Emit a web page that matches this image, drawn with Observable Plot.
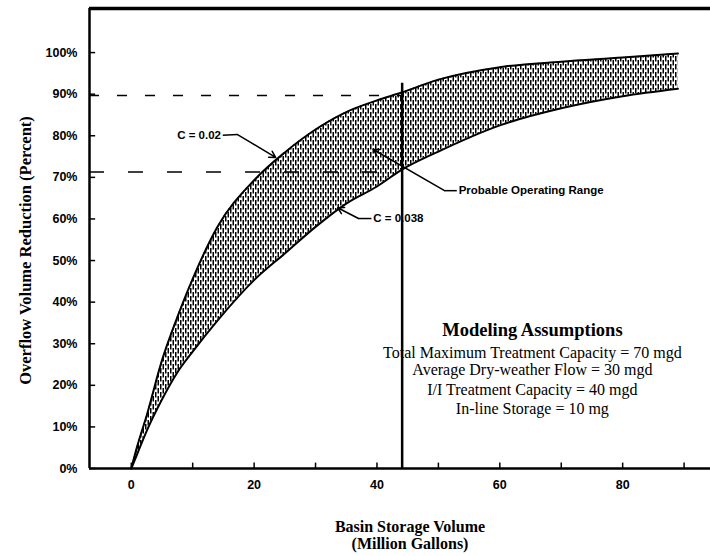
<!DOCTYPE html>
<html>
<head>
<meta charset="utf-8">
<script src="https://cdn.jsdelivr.net/npm/d3@7"></script>
<script src="https://cdn.jsdelivr.net/npm/@observablehq/plot@0.6"></script>
<style>
  html, body { margin: 0; padding: 0; background: #fff; }
</style>
</head>
<body>
<div id="chart"></div>
<script>
// Basin storage volume (million gallons)
const storage = [0, 1, 2.5, 5, 7.5, 10, 14, 20, 25, 30, 35, 40, 44, 50, 60, 70, 80, 89];
// Overflow volume reduction (%), C = 0.02 (upper edge of band)
const reductionC002 = [0, 5.5, 12.7, 26, 36.4, 45.6, 58, 69.3, 76, 81.5, 85.7, 88.5, 90.4, 93.5, 96.5, 97.8, 98.8, 99.8];
// Overflow volume reduction (%), C = 0.038 (lower edge of band)
const reductionC0038 = [0, 3.6, 9.0, 16.6, 23.1, 28.1, 35.5, 45.3, 51.7, 58.1, 63.7, 67.8, 71.8, 76.2, 82.5, 86.6, 89.5, 91.3];

const yTicks = [0, 10, 20, 30, 40, 50, 60, 70, 80, 90, 100];
const xTickLabels = [0, 20, 40, 60, 80];
const xTickMarks = [0, 10, 20, 30, 40, 50, 60, 70, 80, 90];

// operating point
const opStorage = 44.1;
const opUpper = 89.7;
const opLower = 71.3;
const opLineTop = 92.6;

// annotations (data units)
const annText = ["C = 0.02", "C = 0.038", "Probable Operating Range"];
const annAnchor = ["end", "start", "start"];
const annX = [14.6, 39.4, 53.3];
const annY = [80.1, 60.1, 66.8];
const linkStartX = [14.9, 39.1, 53.0];
const elbowX = [17.3, 37.0, 51.0];
const elbowY = [80.3, 60.1, 66.8];
const tipX = [23.5, 33.6, 39.4];
const tipY = [74.8, 62.7, 76.7];

const assumptionsTitle = "Modeling Assumptions";
const assumptions = [
  "Total Maximum Treatment Capacity = 70 mgd",
  "Average Dry-weather Flow = 30 mgd",
  "I/I Treatment Capacity = 40 mgd",
  "In-line Storage = 10 mg"
];
const assumptionsX = 65.3;
const assumptionsTitleY = 33.4;
const assumptionsY = [27.9, 23.6, 19.0, 14.4];

const xDomain = [-6.8, 94.3];
const yDomain = [0, 110.6];

const band = storage.map((s, i) => ({x: s, hi: reductionC002[i], lo: reductionC0038[i]}));
const ann = annText.map((t, i) => ({t, a: annAnchor[i], x: annX[i], y: annY[i], lx: linkStartX[i], ex: elbowX[i], ey: elbowY[i], tx: tipX[i], ty: tipY[i]}));
const assumptionRows = assumptions.map((t, i) => ({t, y: assumptionsY[i]}));

const sans = "Liberation Sans, Arial, sans-serif";
const serif = "Liberation Serif, Times New Roman, serif";

const chart = Plot.plot({
  width: 710,
  height: 556,
  marginLeft: 89,
  marginRight: 0,
  marginTop: 8,
  marginBottom: 88,
  x: {domain: xDomain},
  y: {domain: yDomain},
  style: {background: "white", color: "black", fontFamily: sans},
  marks: [
    Plot.areaY(band, {x: "x", y1: "lo", y2: "hi", fill: "url(#stipple)", curve: "monotone-x"}),
    Plot.line(band, {x: "x", y: "hi", stroke: "black", strokeWidth: 2, curve: "monotone-x"}),
    Plot.line(band, {x: "x", y: "lo", stroke: "black", strokeWidth: 2, curve: "monotone-x"}),
    // dashed guide lines
    Plot.ruleY([opUpper], {x1: xDomain[0], x2: opStorage, stroke: "black", strokeWidth: 1.5, strokeDasharray: "10,18"}),
    Plot.ruleY([opLower], {x1: xDomain[0], x2: opStorage, stroke: "black", strokeWidth: 1.5, strokeDasharray: "15,24"}),
    // vertical operating line
    Plot.ruleX([opStorage], {y1: 0, y2: opLineTop, stroke: "black", strokeWidth: 2.5}),
    // frame
    Plot.ruleY([yDomain[1]], {stroke: "black", strokeWidth: 3.5}),
    Plot.ruleX([xDomain[0]], {stroke: "black", strokeWidth: 2.5}),
    Plot.ruleY([0], {stroke: "black", strokeWidth: 2.5}),
    // inward ticks
    Plot.ruleY(yTicks, {x1: xDomain[0], x2: xDomain[0] + 1, stroke: "black", strokeWidth: 1.5}),
    Plot.ruleX(xTickMarks, {y1: 0, y2: 1.3, stroke: "black", strokeWidth: 1.5}),
    // tick labels
    Plot.axisY({ticks: yTicks, tickSize: 0, tickPadding: 12, tickFormat: d => d + "%", fontSize: 12.5, fontWeight: "bold", label: null}),
    Plot.axisX({ticks: xTickLabels, tickSize: 0, tickPadding: 12, tickFormat: d => String(d), fontSize: 12.5, fontWeight: "bold", label: null}),
    // axis titles
    Plot.text(["Overflow Volume Reduction (Percent)"], {frameAnchor: "left", textAnchor: "middle", rotate: -90, dx: -64, dy: 12, fontFamily: serif, fontWeight: "bold", fontSize: 16.5}),
    Plot.text(["Basin Storage Volume\n(Million Gallons)"], {frameAnchor: "bottom", textAnchor: "middle", lineAnchor: "middle", dx: 10, dy: 67, lineHeight: 1.05, fontFamily: serif, fontWeight: "bold", fontSize: 16}),
    // annotations
    Plot.link(ann, {x1: "lx", y1: "y", x2: "ex", y2: "ey", stroke: "black", strokeWidth: 1.5}),
    Plot.arrow(ann, {x1: "ex", y1: "ey", x2: "tx", y2: "ty", stroke: "black", strokeWidth: 1.5, headLength: 7}),
    Plot.text(ann, {x: "x", y: "y", text: "t", textAnchor: "start", fontSize: 11.5, fontWeight: "bold", filter: d => d.a === "start"}),
    Plot.text(ann, {x: "x", y: "y", text: "t", textAnchor: "end", fontSize: 11.5, fontWeight: "bold", filter: d => d.a === "end"}),
    // modeling assumptions
    Plot.text([assumptionsTitle], {x: assumptionsX, y: assumptionsTitleY, fontFamily: serif, fontWeight: "bold", fontSize: 18.5}),
    Plot.text(assumptionRows, {x: assumptionsX, y: "y", text: "t", fontFamily: serif, fontSize: 16})
  ]
});

// stipple pattern for the band
const ns = "http://www.w3.org/2000/svg";
const defs = document.createElementNS(ns, "defs");
const pat = document.createElementNS(ns, "pattern");
pat.setAttribute("id", "stipple");
pat.setAttribute("patternUnits", "userSpaceOnUse");
pat.setAttribute("width", "5");
pat.setAttribute("height", "8");
const bg = document.createElementNS(ns, "rect");
bg.setAttribute("width", "5"); bg.setAttribute("height", "8"); bg.setAttribute("fill", "white");
pat.appendChild(bg);
[[0, 0, 1.5, 5.5], [2.5, 4, 1.5, 4], [2.5, 0, 1.5, 1.5]].forEach(([x, y, w, h]) => {
  const r = document.createElementNS(ns, "rect");
  r.setAttribute("x", x); r.setAttribute("y", y);
  r.setAttribute("width", w); r.setAttribute("height", h);
  r.setAttribute("fill", "black");
  pat.appendChild(r);
});
defs.appendChild(pat);
chart.insertBefore(defs, chart.firstChild);

document.getElementById("chart").appendChild(chart);
</script>
</body>
</html>
